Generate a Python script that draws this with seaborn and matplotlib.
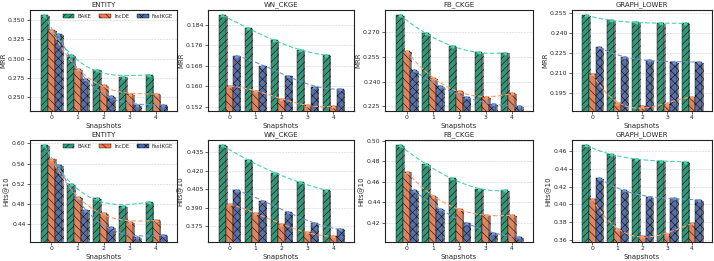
import numpy as np
import pandas as pd
import seaborn as sns
import matplotlib
matplotlib.use("Agg")
import matplotlib.pyplot as plt
import matplotlib.patheffects as pe
from matplotlib.patches import Patch

snapshots = [0, 1, 2, 3, 4]
methods = ["BAKE", "IncDE", "FastKGE"]
datasets = ["ENTITY", "WN_CKGE", "FB_CKGE", "GRAPH_LOWER"]

# MRR values
mrr_entity_bake = [0.3565, 0.3047, 0.2858, 0.2767, 0.2789]
mrr_entity_incde = [0.3370, 0.2862, 0.2651, 0.2539, 0.2543]
mrr_entity_fastkge = [0.3315, 0.2733, 0.2517, 0.2392, 0.2400]

mrr_wn_bake = [0.1879, 0.1827, 0.1780, 0.1743, 0.1722]
mrr_wn_incde = [0.1600, 0.1582, 0.1552, 0.1525, 0.1523]
mrr_wn_fastkge = [0.1720, 0.1681, 0.1642, 0.1599, 0.1590]

mrr_fb_bake = [0.2807, 0.2694, 0.2617, 0.2578, 0.2577]
mrr_fb_incde = [0.2587, 0.2422, 0.2344, 0.2306, 0.2330]
mrr_fb_fastkge = [0.2471, 0.2371, 0.2306, 0.2265, 0.2250]

mrr_gl_bake = [0.2532, 0.2492, 0.2480, 0.2470, 0.2470]
mrr_gl_incde = [0.2095, 0.1872, 0.1852, 0.1865, 0.1922]
mrr_gl_fastkge = [0.2290, 0.2220, 0.2195, 0.2182, 0.2180]

# Hits@10 values
hits_entity_bake = [0.5967, 0.5200, 0.4913, 0.4767, 0.4847]
hits_entity_incde = [0.5700, 0.4933, 0.4620, 0.4453, 0.4480]
hits_entity_fastkge = [0.5573, 0.4693, 0.4340, 0.4153, 0.4193]

hits_wn_bake = [0.4404, 0.4285, 0.4184, 0.4103, 0.4041]
hits_wn_incde = [0.3927, 0.3857, 0.3764, 0.3699, 0.3667]
hits_wn_fastkge = [0.4041, 0.3954, 0.3865, 0.3772, 0.3723]

hits_fb_bake = [0.4954, 0.4771, 0.4632, 0.4534, 0.4515]
hits_fb_incde = [0.4699, 0.4462, 0.4334, 0.4272, 0.4275]
hits_fb_fastkge = [0.4515, 0.4331, 0.4203, 0.4102, 0.4059]

hits_gl_bake = [0.4664, 0.4559, 0.4510, 0.4484, 0.4476]
hits_gl_incde = [0.4064, 0.3723, 0.3652, 0.3671, 0.3791]
hits_gl_fastkge = [0.4293, 0.4157, 0.4086, 0.4067, 0.4049]

mrr_ticks = {
    "ENTITY": [0.250, 0.275, 0.300, 0.325, 0.350],
    "WN_CKGE": [0.152, 0.160, 0.168, 0.176, 0.184],
    "FB_CKGE": [0.225, 0.240, 0.255, 0.270],
    "GRAPH_LOWER": [0.195, 0.210, 0.225, 0.240, 0.255],
}
hits_ticks = {
    "ENTITY": [0.44, 0.48, 0.52, 0.56, 0.60],
    "WN_CKGE": [0.375, 0.390, 0.405, 0.420, 0.435],
    "FB_CKGE": [0.42, 0.44, 0.46, 0.48, 0.50],
    "GRAPH_LOWER": [0.36, 0.38, 0.40, 0.42, 0.44, 0.46],
}
mrr_decimals = {"ENTITY": 3, "WN_CKGE": 3, "FB_CKGE": 3, "GRAPH_LOWER": 3}
hits_decimals = {"ENTITY": 2, "WN_CKGE": 3, "FB_CKGE": 2, "GRAPH_LOWER": 2}
mrr_lims = {
    "ENTITY": (0.232, 0.363),
    "WN_CKGE": (0.1503, 0.1899),
    "FB_CKGE": (0.2222, 0.2836),
    "GRAPH_LOWER": (0.1815, 0.257),
}
hits_lims = {
    "ENTITY": (0.4053, 0.6067),
    "WN_CKGE": (0.362, 0.4448),
    "FB_CKGE": (0.4013, 0.5007),
    "GRAPH_LOWER": (0.358, 0.472),
}

mrr_data = {
    "ENTITY": [mrr_entity_bake, mrr_entity_incde, mrr_entity_fastkge],
    "WN_CKGE": [mrr_wn_bake, mrr_wn_incde, mrr_wn_fastkge],
    "FB_CKGE": [mrr_fb_bake, mrr_fb_incde, mrr_fb_fastkge],
    "GRAPH_LOWER": [mrr_gl_bake, mrr_gl_incde, mrr_gl_fastkge],
}
hits_data = {
    "ENTITY": [hits_entity_bake, hits_entity_incde, hits_entity_fastkge],
    "WN_CKGE": [hits_wn_bake, hits_wn_incde, hits_wn_fastkge],
    "FB_CKGE": [hits_fb_bake, hits_fb_incde, hits_fb_fastkge],
    "GRAPH_LOWER": [hits_gl_bake, hits_gl_incde, hits_gl_fastkge],
}

bar_colors = ["#27a57e", "#f5794a", "#4a6db3"]
line_colors = ["#45d3ae", "#fb9b72", "#6f91d6"]
hatches = ["/////", "\\\\\\\\", "xxxx"]

sns.set_theme(style="ticks")
plt.rcParams["font.family"] = ["DejaVu Sans"]
plt.rcParams["hatch.linewidth"] = 0.35
plt.rcParams["axes.linewidth"] = 0.8

fig = plt.figure(figsize=(7.14, 2.61), dpi=100)
W, H = 714.0, 261.0
col_px = [(30, 177), (208, 354), (385, 533), (572, 712)]
row_px = [(10, 111), (140, 242)]


def draw_panel(ax, name, series, ylabel, ticks, dec, lims, show_legend):
    rows = []
    for m, vals in zip(methods, series):
        for s, v in zip(snapshots, vals):
            rows.append({"Snapshots": s, "value": v, "Method": m})
    df = pd.DataFrame(rows)
    sns.barplot(data=df, x="Snapshots", y="value", hue="Method",
                hue_order=methods, palette=bar_colors, ax=ax,
                width=0.8, edgecolor="black", linewidth=0.3,
                legend=False, errorbar=None, zorder=3)
    for cont, h, lc in zip(ax.containers, hatches, line_colors):
        xs, ys = [], []
        for bar in cont:
            bar.set_hatch(h)
            bar.set_path_effects([
                pe.SimplePatchShadow(offset=(1.2, -0.6), shadow_rgbFace="#8a8a8a", alpha=0.9),
                pe.Normal()])
            xs.append(bar.get_x() + bar.get_width() / 2)
            ys.append(bar.get_height())
        xs = np.array(xs)
        ys = np.array(ys)
        coef = np.polyfit(xs, ys, 3)
        xf = np.linspace(xs.min(), xs.max(), 100)
        ax.plot(xf, np.polyval(coef, xf), ls=(0, (4, 2)), color=lc, lw=0.8, zorder=5)
        ax.plot(xs, ys, ls="none", marker="^", ms=1.8, color=lc, zorder=6)
    ax.set_ylim(*lims)
    ax.set_xlim(-0.82, 4.8)
    ax.set_yticks(ticks)
    ax.set_yticklabels([f"{t:.{dec}f}" for t in ticks])
    ax.yaxis.grid(True, ls="--", lw=0.4, color="#cfcfcf", zorder=0)
    ax.set_axisbelow(True)
    ax.tick_params(axis="both", labelsize=4.4, length=2, width=0.5, pad=1.2)
    ax.set_title(name, fontsize=5.0, pad=2.5)
    ax.set_xlabel("Snapshots", fontsize=5.0, labelpad=1.5)
    ax.set_ylabel(ylabel, fontsize=5.0, labelpad=1.5)
    for sp in ax.spines.values():
        sp.set_color("#222222")
        sp.set_linewidth(0.8)
    if show_legend:
        handles = [Patch(facecolor=c, edgecolor="black", hatch=h, lw=0.3, label=m)
                   for c, h, m in zip(bar_colors, hatches, methods)]
        ax.legend(handles=handles, ncol=3, loc="upper right", frameon=False,
                  fontsize=3.8, handlelength=2.2, handleheight=0.7,
                  columnspacing=1.5, handletextpad=0.6, borderaxespad=0.35)


for r, (data, ylabel, tks, decs, lms) in enumerate([
        (mrr_data, "MRR", mrr_ticks, mrr_decimals, mrr_lims),
        (hits_data, "Hits@10", hits_ticks, hits_decimals, hits_lims)]):
    for c, name in enumerate(datasets):
        x0, x1 = col_px[c]
        y0, y1 = row_px[r]
        ax = fig.add_axes([x0 / W, 1 - y1 / H, (x1 - x0) / W, (y1 - y0) / H])
        draw_panel(ax, name, data[name], ylabel, tks[name], decs[name], lms[name], c == 0)

fig.savefig("out.png", dpi=100)
